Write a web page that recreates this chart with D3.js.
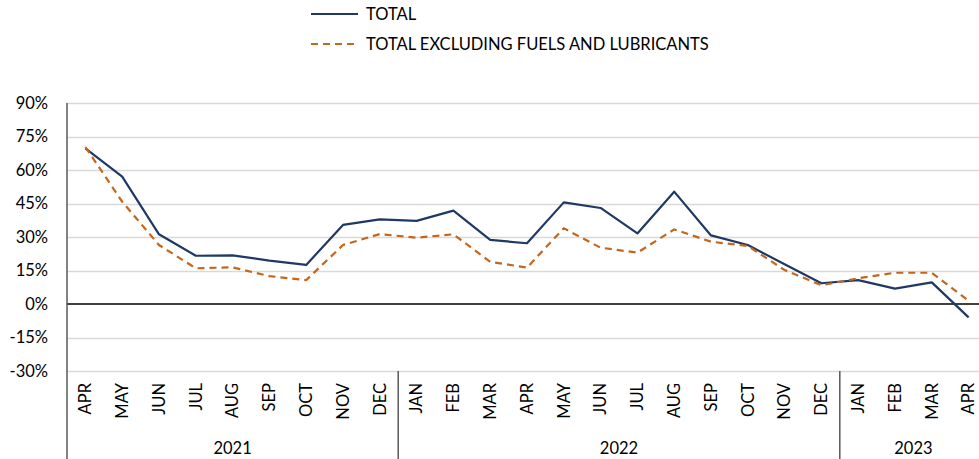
<!DOCTYPE html>
<html>
<head>
<meta charset="utf-8">
<script src="https://cdn.jsdelivr.net/npm/d3@7"></script>
<style>
  body { margin: 0; background: #fff; }
  svg { display: block; font-family: Lato, "Open Sans", sans-serif; }
  .lbl { fill: #000; }
</style>
</head>
<body>
<div id="chart"></div>
<script>
//Datos
const months = ['APR','MAY','JUN','JUL','AUG','SEP','OCT','NOV','DEC',
    'JAN','FEB','MAR','APR','MAY','JUN','JUL','AUG','SEP','OCT','NOV','DEC',
    'JAN','FEB','MAR','APR'];
const years = ['2021','2022','2023'];
const yearCounts = [9, 12, 4];
const totalValues = [69.7, 57.0, 31.2, 21.6, 21.8, 19.4, 17.5, 35.4, 37.9,
    37.2, 41.8, 28.7, 27.2, 45.5, 43.0, 31.6, 50.3, 30.7, 26.4, 17.8, 9.3,
    10.7, 6.9, 9.7, -6.0];
const exFuelValues = [70.3, 45.8, 26.4, 16.0, 16.4, 12.5, 10.7, 26.4, 31.3,
    29.7, 31.2, 18.9, 16.3, 33.9, 25.2, 23.0, 33.4, 27.9, 26.0, 15.2, 8.4,
    11.5, 14.0, 14.0, 1.5];
const yTicks = [-30, -15, 0, 15, 30, 45, 60, 75, 90];
const seriesNames = ['TOTAL', 'TOTAL EXCLUDING FUELS AND LUBRICANTS'];

//Colores
const COLOR_TOTAL = '#203864',
    COLOR_EXFUEL = '#C4661C',
    COLOR_GRID = '#D9D9D9',
    COLOR_AXIS = '#595959';

const FONT_SIZE = '16.5px';

let margin = {top: 103, left: 67},
    W = 979, H = 459,
    plotW = 920,
    plotH = 268;

let svg = d3.select('#chart').append('svg')
    .attr('width', W)
    .attr('height', H);

let idx = months.map(function(d,i) { return i; });

let x = d3.scaleBand()
    .domain(idx)
    .range([margin.left, margin.left + plotW]);

let y = d3.scaleLinear()
    .domain([-30, 90])
    .range([margin.top + plotH, margin.top]);

//Rejilla
svg.append('g')
    .selectAll('line')
    .data(yTicks.filter(function(d) { return d != 0; }))
    .enter()
    .append('line')
    .attr('x1', margin.left)
    .attr('x2', W)
    .attr('y1', function(d) { return Math.round(y(d)) + 0.5; })
    .attr('y2', function(d) { return Math.round(y(d)) + 0.5; })
    .attr('stroke', COLOR_GRID)
    .attr('stroke-width', 1.3);

//Eje Y
let yAxis = svg.append('g')
    .attr('transform', 'translate(' + margin.left + ',0)')
    .call(d3.axisLeft(y).tickValues(yTicks).tickSize(0).tickPadding(19).tickFormat(function(d) { return d + '%'; }));
yAxis.select('.domain').remove();
yAxis.selectAll('text')
    .attr('class', 'lbl')
    .style('font-size', FONT_SIZE)
    .style('font-family', 'Lato, sans-serif');

//Linea de cero
svg.append('line')
    .attr('x1', margin.left)
    .attr('x2', W)
    .attr('y1', y(0))
    .attr('y2', y(0))
    .attr('stroke', '#000')
    .attr('stroke-width', 1.5);

//Linea vertical del eje
svg.append('line')
    .attr('x1', margin.left)
    .attr('x2', margin.left)
    .attr('y1', margin.top)
    .attr('y2', H)
    .attr('stroke', COLOR_AXIS)
    .attr('stroke-width', 1.5);

//Etiquetas de meses
let monthAxis = svg.append('g')
    .attr('transform', 'translate(0,' + (margin.top + plotH) + ')')
    .call(d3.axisBottom(x).tickSize(0).tickFormat(function(d) { return months[d]; }));
monthAxis.select('.domain').remove();
monthAxis.selectAll('text')
    .attr('class', 'lbl')
    .attr('transform', 'rotate(-90)')
    .attr('x', -12)
    .attr('y', 0)
    .attr('dy', '0.35em')
    .style('text-anchor', 'end')
    .style('font-size', FONT_SIZE)
    .style('font-family', 'Lato, sans-serif');

//Separadores y años
let starts = [];
let acc = 0;
yearCounts.forEach(function(c) { starts.push(acc); acc += c; });

svg.append('g')
    .selectAll('line')
    .data(starts.slice(1))
    .enter()
    .append('line')
    .attr('x1', function(d) { return x(d); })
    .attr('x2', function(d) { return x(d); })
    .attr('y1', margin.top + plotH)
    .attr('y2', H)
    .attr('stroke', COLOR_AXIS)
    .attr('stroke-width', 1.5);

svg.append('g')
    .selectAll('text')
    .data(years)
    .enter()
    .append('text')
    .attr('class', 'lbl')
    .attr('x', function(d,i) { return x(starts[i]) + yearCounts[i] * x.bandwidth() / 2; })
    .attr('y', 448)
    .attr('dy', '0.35em')
    .attr('text-anchor', 'middle')
    .style('font-size', FONT_SIZE)
    .text(function(d) { return d; });

//Lineas
let line = d3.line()
    .x(function(d,i) { return x(i) + x.bandwidth() / 2; })
    .y(function(d) { return y(d); });

svg.append('path')
    .datum(totalValues)
    .attr('d', line)
    .attr('fill', 'none')
    .attr('stroke', COLOR_TOTAL)
    .attr('stroke-width', 2.2)
    .attr('stroke-linejoin', 'round');

svg.append('path')
    .datum(exFuelValues)
    .attr('d', line)
    .attr('fill', 'none')
    .attr('stroke', COLOR_EXFUEL)
    .attr('stroke-width', 2.2)
    .attr('stroke-dasharray', '7,5');

//Leyenda
let legend = svg.append('g');
let legendRows = [
    {name: seriesNames[0], color: COLOR_TOTAL, dash: null, y: 14},
    {name: seriesNames[1], color: COLOR_EXFUEL, dash: '7,5', y: 44}
];
legendRows.forEach(function(r) {
    legend.append('line')
        .attr('x1', 311)
        .attr('x2', 358)
        .attr('y1', r.y)
        .attr('y2', r.y)
        .attr('stroke', r.color)
        .attr('stroke-width', 2.2)
        .attr('stroke-dasharray', r.dash);
    legend.append('text')
        .attr('class', 'lbl')
        .attr('x', 366)
        .attr('y', r.y)
        .attr('dy', '0.35em')
        .style('font-size', FONT_SIZE)
        .text(r.name);
});
</script>
</body>
</html>
